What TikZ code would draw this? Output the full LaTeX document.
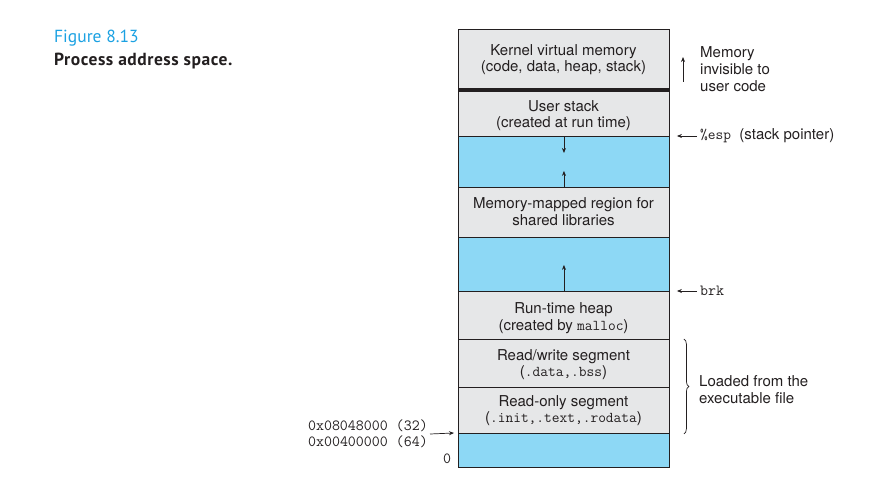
\documentclass[tikz,border=0pt]{standalone}
\usepackage{fontspec}
\setmainfont{TeX Gyre Heros}
\newfontfamily\capfont{PT Sans}
\usetikzlibrary{arrows.meta,decorations.pathreplacing}
\definecolor{segblue}{RGB}{141,216,245}
\definecolor{seggray}{RGB}{230,231,232}
\definecolor{capblue}{RGB}{27,161,226}
\definecolor{ink}{RGB}{35,31,32}
\tikzset{
  seg/.style={draw=ink, line width=0.9pt, fill=seggray, minimum width=211pt, inner sep=0pt, anchor=north west},
  gap/.style={seg, fill=segblue},
  segtxt/.style={font=\fontsize{15}{17}\selectfont, text=ink, inner sep=0pt, anchor=base},
  arr/.style={-{Stealth[length=5pt,width=4pt]}, line width=0.7pt, draw=ink},
  lab/.style={font=\fontsize{15}{17}\selectfont, text=ink, align=left, inner sep=0pt},
  mono/.style={font=\fontsize{15.5}{16.5}\selectfont\ttfamily, text=ink, inner sep=0pt}
}
\newcommand{\mt}[1]{{\ttfamily #1}}
\begin{document}
\begin{tikzpicture}[x=1pt,y=-1pt]
\useasboundingbox (0,0) rectangle (873,487);
% segments
\node[seg, minimum height=60pt] (kern) at (458,29) {};
\node[seg, minimum height=45pt] (ustack) at (458,91) {};
\node[gap, minimum height=51pt] (g1) at (458,136) {};
\node[seg, minimum height=50pt] (mmap) at (458,187) {};
\node[gap, minimum height=54pt] (g2) at (458,237) {};
\node[seg, minimum height=48pt] (heap) at (458,291) {};
\node[seg, minimum height=48pt] (rw) at (458,339) {};
\node[seg, minimum height=46pt] (ro) at (458,387) {};
\node[gap, minimum height=34pt] (g3) at (458,433) {};
\draw[ink, line width=3pt] (kern.south west) -- (kern.south east);
% segment texts
\node[segtxt] (kern1) at (563.5,55.5) {Kernel virtual memory};
\node[segtxt] (kern2) at (563.5,72) {(code, data, heap, stack)};
\node[segtxt] (us1) at (563.5,111) {User stack};
\node[segtxt] (us2) at (563.5,127.5) {(created at run time)};
\node[segtxt] (mm1) at (563.5,208.5) {Memory-mapped region for};
\node[segtxt] (mm2) at (563.5,225) {shared libraries};
\node[segtxt] (hp1) at (563.5,313) {Run-time heap};
\node[segtxt] (hp2) at (563.5,330) {(created by \mt{malloc})};
\node[segtxt] (rw1) at (563.5,360) {Read/write segment};
\node[segtxt] (rw2) at (563.5,376.5) {(\mt{.data,.bss})};
\node[segtxt] (ro1) at (563.5,406) {Read-only segment};
\node[segtxt] (ro2) at (563.5,422.5) {(\mt{.init,.text,.rodata})};
% growth arrows
\coordinate (a1) at ([yshift=-17pt]g1.north);
\coordinate (a2) at ([yshift=17pt]g1.south);
\coordinate (a3) at ([yshift=27pt]g2.south);
\draw[arr] (g1.north) -- (a1);
\draw[arr] (g1.south) -- (a2);
\draw[arr] (g2.south) -- (a3);
% right annotations
\coordinate (m1) at (683,82);
\coordinate (m2) at (683,57);
\draw[arr] (m1) -- (m2);
\node[lab, anchor=north west] (mem) at (700,46) {Memory\\invisible to\\user code};
\node[lab, anchor=west] (esp) at (700,136) {\mt{\%esp}\ \ (stack pointer)};
\draw[arr] ([xshift=-3pt]esp.west) -- ([xshift=7pt]g1.north east);
\node[mono, anchor=west] (brk) at (700,291) {brk};
\draw[arr] ([xshift=-3pt]brk.west) -- ([xshift=7pt]heap.north east);
\draw[ink, line width=0.7pt, decorate, decoration={brace, amplitude=5pt}] ([xshift=14pt]rw.north east) -- ([xshift=14pt]ro.south east);
\node[lab, anchor=west] (load) at (699,390) {Loaded from the\\executable file};
% left annotations
\node[mono, anchor=east, align=right] (addr) at (428,434) {0x08048000 (32)\\0x00400000 (64)};
\draw[arr] ([xshift=2pt]addr.east) -- ([xshift=-4pt]g3.north west);
\node[mono, anchor=center] (zero) at (447,459) {0};
% caption
\node[anchor=north west, inner sep=0pt, text=capblue, font=\capfont\fontsize{17.5}{19}\selectfont] (fig) at (54,30) {Figure 8.13};
\node[anchor=north west, inner sep=0pt, text=ink, font=\capfont\bfseries\fontsize{17.5}{19}\selectfont\addfontfeatures{LetterSpace=3}] (cap) at (54,53) {Process address space.};
\end{tikzpicture}
\end{document}
